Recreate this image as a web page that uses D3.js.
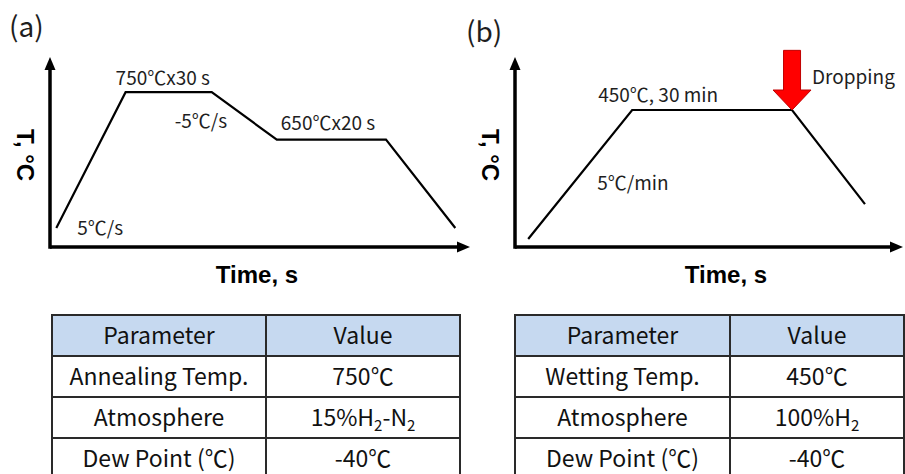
<!DOCTYPE html>
<html><head><meta charset="utf-8">
<script src="https://cdn.jsdelivr.net/npm/d3@7"></script>
<style>html,body{margin:0;padding:0;background:#fff;}svg{display:block;}</style>
</head><body>
<svg id="c" width="905" height="474"></svg>
<script>
// ---- data (schematic: time and temperature level in relative units) ----
const profileATime = [1.5, 18, 38.5, 54, 80, 96.5];
const profileATemp = [10, 81.5, 81.5, 56.5, 56.5, 10];
const profileBTime = [3.4, 30.2, 71.4, 90.2];
const profileBTemp = [4.2, 72.1, 72.1, 22.6];
const dropTime = 71.4, dropTop = 103.5;
const labelsA = ["750℃x30 s", "-5℃/s", "650℃x20 s", "5℃/s"];
const labelsB = ["450℃, 30 min", "5℃/min", "Dropping"];
const panelTitles = ["(a)", "(b)"];
const axisX = "Time, s", axisY = "T, °C";
const tableHeader = ["Parameter", "Value"];
const tableAParams = ["Annealing Temp.", "Atmosphere", "Dew Point (℃)"];
const tableAValues = ["750℃", "15%H_2-N_2", "-40℃"];
const tableBParams = ["Wetting Temp.", "Atmosphere", "Dew Point (℃)"];
const tableBValues = ["450℃", "100%H_2", "-40℃"];

const svg = d3.select("#c");
const FONT = "'Noto Sans CJK KR','Noto Sans',sans-serif";
const TXT = "#1e1e1e";

function panel(opt) {
  const x = d3.scaleLinear().domain([0, 100]).range([opt.x0, opt.x1]);
  const y = d3.scaleLinear().domain([0, 100]).range([247, 57]);
  const g = svg.append("g");
  // axes
  g.append("line").attr("x1", x(0)).attr("x2", x(100) - 8).attr("y1", y(0)).attr("y2", y(0))
    .attr("stroke", "#000").attr("stroke-width", 3.5);
  g.append("line").attr("x1", x(0)).attr("x2", x(0)).attr("y1", y(0) + 1.75).attr("y2", y(100) + 8)
    .attr("stroke", "#000").attr("stroke-width", 3.5);
  g.append("path").attr("d", `M${x(100)},${y(0)} l-13,-5.5 l0,11 Z`).attr("fill", "#000");
  g.append("path").attr("d", `M${x(0)},${y(100)} l-5.5,13 l11,0 Z`).attr("fill", "#000");
  // profile
  const pts = opt.time.map((t, i) => [t, opt.temp[i]]);
  g.append("path").datum(pts)
    .attr("d", d3.line().x(d => x(d[0])).y(d => y(d[1])))
    .attr("fill", "none").attr("stroke", "#000").attr("stroke-width", 2.2).attr("stroke-linejoin", "miter");
  // axis titles
  g.append("text").attr("x", opt.xt).attr("y", 283).attr("text-anchor", "middle")
    .attr("font-family", "'Liberation Sans',Arial,sans-serif").attr("font-weight", "bold")
    .attr("font-size", 24).attr("fill", "#000").text(axisX);
  g.append("text").attr("transform", `translate(${opt.yt},155) rotate(90)`).attr("text-anchor", "middle")
    .attr("font-family", "'Liberation Sans',Arial,sans-serif").attr("font-weight", "bold")
    .attr("font-size", 24).attr("fill", "#000").text(axisY);
  g.append("text").attr("x", opt.tx).attr("y", opt.ty).attr("font-family", FONT)
    .attr("font-size", 28).attr("fill", TXT).text(opt.title);
  return {g, x, y};
}

const A = panel({x0: 50, x1: 470, time: profileATime, temp: profileATemp, xt: 257, yt: 17, title: panelTitles[0], tx: 9, ty: 37});
const B = panel({x0: 515, x1: 903, time: profileBTime, temp: profileBTemp, xt: 726, yt: 482, title: panelTitles[1], tx: 466, ty: 42});

function ann(p, txt, t, v, dx, dy, size) {
  p.g.append("text").attr("x", p.x(t) + dx).attr("y", p.y(v) + dy)
    .attr("font-family", FONT).attr("font-size", size || 19).attr("fill", TXT).text(txt);
}
ann(A, labelsA[0], profileATime[1], profileATemp[1], -10, -7);
ann(A, labelsA[1], profileATime[2], profileATemp[2], -37, 36);
ann(A, labelsA[2], profileATime[3], profileATemp[3], 4, -10);
ann(A, labelsA[3], profileATime[0], profileATemp[0], 21, 7);
ann(B, labelsB[0], profileBTime[1], profileBTemp[1], -34, -8);
ann(B, labelsB[1], profileBTime[1], profileBTemp[1], -35, 80);

// drop arrow
{
  const xa = B.x(dropTime), yt = B.y(profileBTemp[2]), ytop = B.y(dropTop);
  const hw = 8.5, headW = 19, headH = 20;
  const d = `M${xa - hw},${ytop} L${xa + hw},${ytop} L${xa + hw},${yt - headH} L${xa + headW},${yt - headH} L${xa},${yt} L${xa - headW},${yt - headH} L${xa - hw},${yt - headH} Z`;
  B.g.append("path").attr("d", d).attr("fill", "#ff0000").attr("stroke", "#c00000").attr("stroke-width", 1);
  B.g.append("text").attr("x", xa + 20).attr("y", ytop + 34).attr("font-family", FONT)
    .attr("font-size", 19).attr("fill", TXT).text(labelsB[2]);
}

// tables
function richText(sel, s) {
  const parts = s.split(/_(\d)/);
  parts.forEach((p, i) => {
    if (!p) return;
    if (i % 2 === 1) sel.append("tspan").attr("font-size", 15).attr("dy", 5).text(p);
    else sel.append("tspan").attr("dy", i > 0 ? -5 : 0).text(p);
  });
}
function table(x0, xs, x1, params, values) {
  const rowsY = d3.scaleBand().domain(d3.range(4)).range([315, 479]);
  const g = svg.append("g");
  g.append("rect").attr("x", x0).attr("y", rowsY(0)).attr("width", x1 - x0).attr("height", rowsY.bandwidth())
    .attr("fill", "#c6d9f0");
  const rows = [tableHeader].concat(params.map((p, i) => [p, values[i]]));
  rows.forEach((r, i) => {
    const yc = rowsY(i) + rowsY.bandwidth() / 2 + 8;
    [[r[0], (x0 + xs) / 2], [r[1], (xs + x1) / 2]].forEach(([s, cx]) => {
      const t = g.append("text").attr("x", cx).attr("y", yc).attr("text-anchor", "middle")
        .attr("font-family", FONT).attr("font-size", 23).attr("fill", "#111");
      richText(t, s);
    });
  });
  d3.range(4).forEach(i => {
    g.append("line").attr("x1", x0).attr("x2", x1).attr("y1", rowsY(i)).attr("y2", rowsY(i))
      .attr("stroke", "#2a2a2a").attr("stroke-width", 2);
  });
  [x0, xs, x1].forEach(xx => {
    g.append("line").attr("x1", xx).attr("x2", xx).attr("y1", 314).attr("y2", 480)
      .attr("stroke", "#2a2a2a").attr("stroke-width", 2);
  });
}
table(52, 266, 460, tableAParams, tableAValues);
table(515, 730, 904, tableBParams, tableBValues);
</script>
</body></html>
